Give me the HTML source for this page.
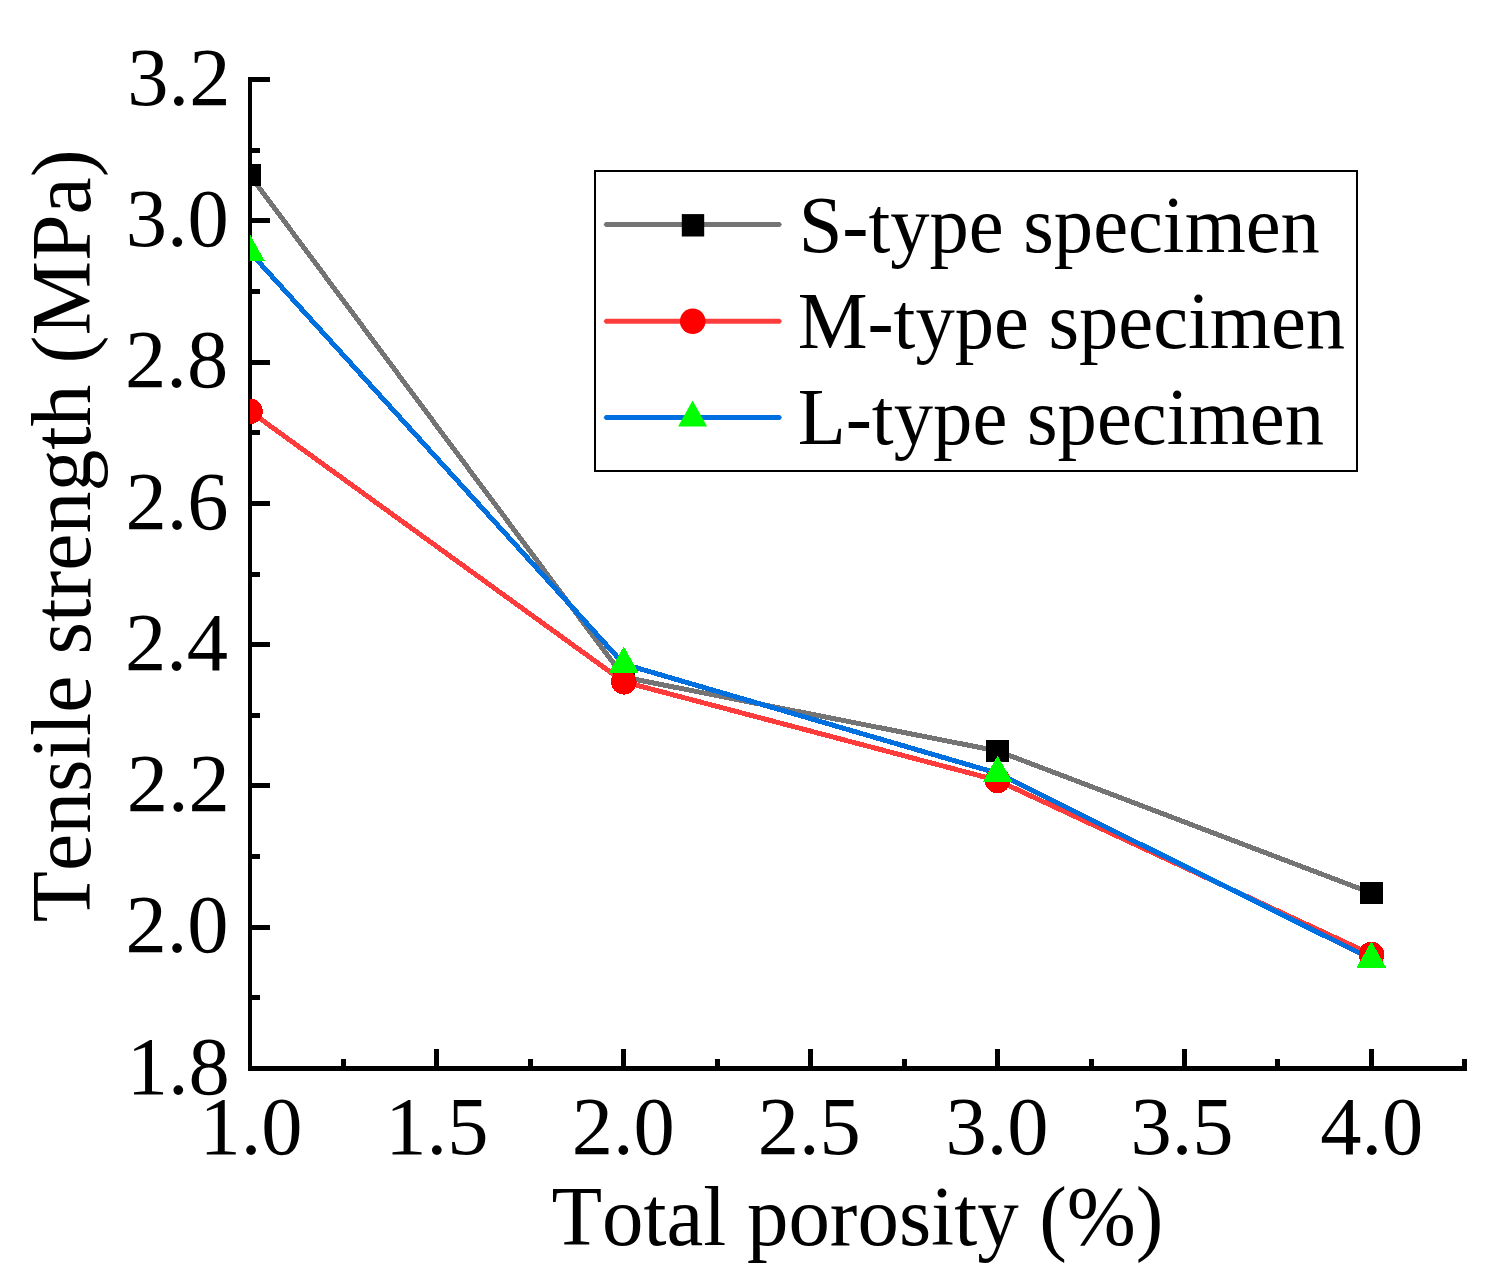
<!DOCTYPE html><html><head><meta charset="utf-8"><title>Tensile strength vs total porosity</title><style>html,body{margin:0;padding:0;background:#fff;overflow:hidden;}svg{display:block;}</style></head><body>
<svg width="1501" height="1288" viewBox="0 0 1501 1288">
<rect width="1501" height="1288" fill="#fff"/>
<g fill="#000">
<rect x="248" y="77" width="4" height="994"/>
<rect x="248" y="1066" width="1219" height="5"/>
<rect x="250" y="1066" width="20" height="5"/>
<rect x="250" y="995" width="10" height="5"/>
<rect x="250" y="925" width="20" height="5"/>
<rect x="250" y="854" width="10" height="5"/>
<rect x="250" y="783" width="20" height="5"/>
<rect x="250" y="713" width="10" height="5"/>
<rect x="250" y="642" width="20" height="5"/>
<rect x="250" y="572" width="10" height="5"/>
<rect x="250" y="501" width="20" height="5"/>
<rect x="250" y="430" width="10" height="5"/>
<rect x="250" y="360" width="20" height="5"/>
<rect x="250" y="289" width="10" height="5"/>
<rect x="250" y="218" width="20" height="5"/>
<rect x="250" y="148" width="10" height="5"/>
<rect x="250" y="77" width="20" height="5"/>
<rect x="341" y="1059" width="5" height="9"/>
<rect x="434" y="1049" width="5" height="19"/>
<rect x="528" y="1059" width="5" height="9"/>
<rect x="621" y="1049" width="5" height="19"/>
<rect x="715" y="1059" width="5" height="9"/>
<rect x="808" y="1049" width="5" height="19"/>
<rect x="902" y="1059" width="5" height="9"/>
<rect x="995" y="1049" width="5" height="19"/>
<rect x="1089" y="1059" width="5" height="9"/>
<rect x="1182" y="1049" width="5" height="19"/>
<rect x="1275" y="1059" width="5" height="9"/>
<rect x="1369" y="1049" width="5" height="19"/>
<rect x="1462" y="1059" width="5" height="9"/>
</g>
<g style="font-family:'Liberation Serif','Times New Roman',serif;font-kerning:none;font-size:82.5px" fill="#000">
<text x="229.80" y="1093.70" text-anchor="end">1.8</text>
<text x="228.50" y="952.42" text-anchor="end">2.0</text>
<text x="229.80" y="811.14" text-anchor="end">2.2</text>
<text x="228.10" y="669.86" text-anchor="end">2.4</text>
<text x="228.50" y="528.58" text-anchor="end">2.6</text>
<text x="228.20" y="387.30" text-anchor="end">2.8</text>
<text x="228.80" y="246.02" text-anchor="end">3.0</text>
<text x="230.40" y="104.74" text-anchor="end">3.2</text>
<text x="251.00" y="1154" text-anchor="middle">1.0</text>
<text x="436.90" y="1154" text-anchor="middle">1.5</text>
<text x="623.30" y="1154" text-anchor="middle">2.0</text>
<text x="809.20" y="1154" text-anchor="middle">2.5</text>
<text x="997.00" y="1154" text-anchor="middle">3.0</text>
<text x="1182.00" y="1154" text-anchor="middle">3.5</text>
<text x="1371.70" y="1154" text-anchor="middle">4.0</text>
</g>
<text style="font-family:'Liberation Serif','Times New Roman',serif;font-kerning:none;font-size:85px" transform="translate(551.50,1244.90) scale(0.9747,1)">Total porosity (%)</text>
<text style="font-family:'Liberation Serif','Times New Roman',serif;font-kerning:none;font-size:85px" transform="translate(89.90,922.21) rotate(-90) scale(0.9863,1)">Tensile strength (MPa)</text>
<defs><clipPath id="pc"><rect x="250" y="0" width="1300" height="1066"/></clipPath></defs>
<g clip-path="url(#pc)" shape-rendering="crispEdges">
<polyline points="250.00,175.26 623.80,677.15 997.60,750.97 1371.40,893.03" fill="none" stroke="#747474" stroke-width="5" stroke-linejoin="round"/>
<polyline points="250.00,411.34 623.80,681.82 997.60,780.43 1371.40,954.49" fill="none" stroke="#FF3C3C" stroke-width="5" stroke-linejoin="round"/>
<polyline points="250.00,252.25 623.80,664.09 997.60,773.30 1371.40,959.01" fill="none" stroke="#0070E0" stroke-width="5" stroke-linejoin="round"/>
<rect x="238.80" y="164.06" width="22.4" height="22.4" fill="#000"/>
<rect x="612.60" y="665.95" width="22.4" height="22.4" fill="#000"/>
<rect x="986.40" y="739.77" width="22.4" height="22.4" fill="#000"/>
<rect x="1360.20" y="881.83" width="22.4" height="22.4" fill="#000"/>
<circle cx="250.00" cy="411.34" r="12.8" fill="#FF0000"/>
<circle cx="623.80" cy="681.82" r="12.8" fill="#FF0000"/>
<circle cx="997.60" cy="780.43" r="12.8" fill="#FF0000"/>
<circle cx="1371.40" cy="954.49" r="12.8" fill="#FF0000"/>
<polygon points="250.00,234.59 235.10,261.09 264.90,261.09" fill="#00FF00"/>
<polygon points="623.80,646.42 608.90,672.92 638.70,672.92" fill="#00FF00"/>
<polygon points="997.60,755.63 982.70,782.13 1012.50,782.13" fill="#00FF00"/>
<polygon points="1371.40,941.34 1356.50,967.84 1386.30,967.84" fill="#00FF00"/>
</g>
<rect x="595" y="171" width="762" height="300" fill="none" stroke="#000" stroke-width="2"/>
<polygon points="603.5,224.40 605.5,221.90 780,221.90 782,224.40 780,226.90 605.5,226.90" fill="#747474"/>
<rect x="681.80" y="214.10" width="22.4" height="22.4" fill="#000"/>
<polygon points="603.5,321.20 605.5,318.70 780,318.70 782,321.20 780,323.70 605.5,323.70" fill="#FF3C3C"/>
<circle cx="692.70" cy="321.20" r="12.8" fill="#FF0000"/>
<polygon points="603.5,417.45 605.5,414.95 780,414.95 782,417.45 780,419.95 605.5,419.95" fill="#0070E0"/>
<polygon points="692.60,400.52 678.10,426.52 707.10,426.52" fill="#00FF00"/>
<g fill="#000">
<text style="font-family:'Liberation Serif','Times New Roman',serif;font-kerning:none;font-size:80px" transform="translate(798.65,252.30) scale(0.9817,1)">S-type specimen</text>
<text style="font-family:'Liberation Serif','Times New Roman',serif;font-kerning:none;font-size:80px" transform="translate(797.64,347.90) scale(0.9818,1)">M-type specimen</text>
<text style="font-family:'Liberation Serif','Times New Roman',serif;font-kerning:none;font-size:80px" transform="translate(797.63,444.00) scale(0.9834,1)">L-type specimen</text>
</g>
</svg></body></html>
